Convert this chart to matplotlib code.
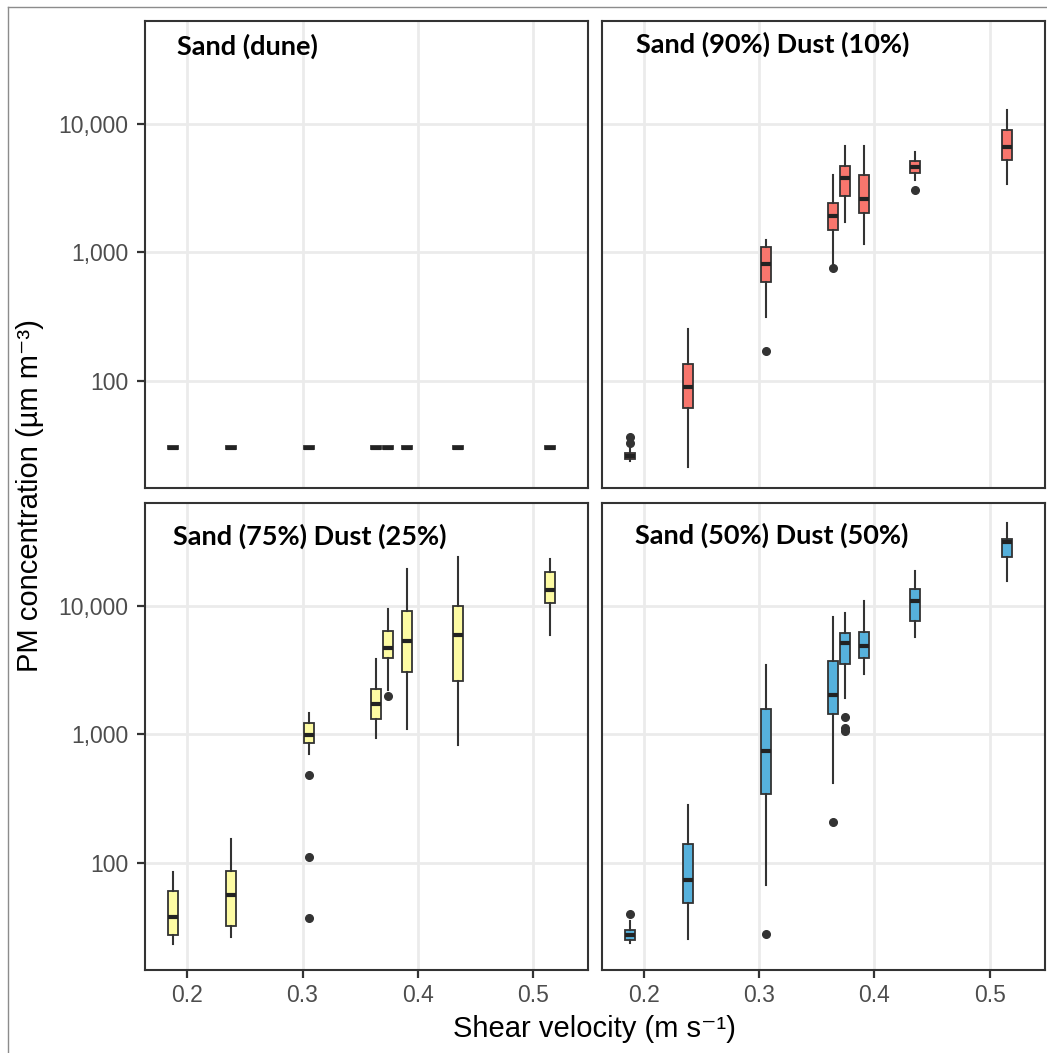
import matplotlib
matplotlib.use("Agg")
import matplotlib.pyplot as plt
from matplotlib.ticker import FixedLocator, FuncFormatter, NullLocator
from matplotlib.lines import Line2D

# Shear velocities (m s-1) of the wind-tunnel runs
shear_velocity = [0.188, 0.238, 0.306, 0.364, 0.374, 0.391, 0.435, 0.515]

# Box statistics per surface: lower whisker, Q1, median, Q3, upper whisker, outliers
dune_lo  = [29.2, 29.2, 29.2, 29.2, 29.2, 29.2, 29.2, 29.2]
dune_q1  = [29.2, 29.2, 29.2, 29.2, 29.2, 29.2, 29.2, 29.2]
dune_med = [30, 30, 30, 30, 30, 30, 30, 30]
dune_q3  = [30.8, 30.8, 30.8, 30.8, 30.8, 30.8, 30.8, 30.8]
dune_hi  = [30.8, 30.8, 30.8, 30.8, 30.8, 30.8, 30.8, 30.8]
dune_out = [[], [], [], [], [], [], [], []]

d10_lo  = [23.8, 21.4, 312, 800, 1733, 1153, 3665, 3404]
d10_q1  = [24.8, 61, 591, 1493, 2717, 2014, 4127, 5178]
d10_med = [26, 90, 811, 1919, 3776, 2589, 4594, 6580]
d10_q3  = [27.5, 135, 1093, 2411, 4652, 4010, 5082, 8872]
d10_hi  = [30.6, 251, 1247, 4010, 6655, 6655, 5986, 12850]
d10_out = [[32.5, 36.6], [], [169], [750], [], [], [3029], []]

d25_lo  = [23.3, 26.6, 697, 929, 2208, 1092, 825, 5910]
d25_q1  = [27.4, 32.4, 849, 1321, 3939, 3063, 2596, 10550]
d25_med = [38, 56, 985, 1706, 4711, 5306, 5910, 13090]
d25_q3  = [60, 86, 1228, 2245, 6310, 9080, 10000, 18280]
d25_hi  = [85, 153, 1468, 3821, 9360, 19170, 24050, 23050]
d25_out = [[], [], [37.3, 111, 481], [], [1983], [], [], []]

d50_lo  = [24, 25.8, 67, 420, 1925, 2937, 5737, 15560]
d50_q1  = [25.3, 49, 342, 1435, 3517, 3939, 7640, 23790]
d50_med = [27.7, 73, 745, 2017, 5093, 4885, 10870, 30930]
d50_q3  = [29.9, 140, 1571, 3707, 6090, 6196, 13550, 33050]
d50_hi  = [35.4, 281, 3452, 8210, 8720, 10870, 18720, 43750]
d50_out = [[40.4], [], [28.2], [208], [1064, 1110, 1368], [], [], []]

panel_titles = ["Sand (dune)", "Sand (90%) Dust (10%)",
                "Sand (75%) Dust (25%)", "Sand (50%) Dust (50%)"]
panel_colors = ["#333333", "#F8766D", "#FDFBA3", "#56B1DC"]
y_ticks = [100, 1000, 10000]
x_ticks = [0.2, 0.3, 0.4, 0.5]

panels = [
    (dune_lo, dune_q1, dune_med, dune_q3, dune_hi, dune_out),
    (d10_lo, d10_q1, d10_med, d10_q3, d10_hi, d10_out),
    (d25_lo, d25_q1, d25_med, d25_q3, d25_hi, d25_out),
    (d50_lo, d50_q1, d50_med, d50_q3, d50_hi, d50_out),
]

W, H = 1047, 1053
fig = plt.figure(figsize=(W / 100, H / 100), dpi=100)

def frac_rect(x0, y0, x1, y1):
    return [x0 / W, 1 - y1 / H, (x1 - x0) / W, (y1 - y0) / H]

rects = [frac_rect(145, 21, 588, 487.7), frac_rect(602, 21, 1044.5, 487.7),
         frac_rect(145, 502.7, 588, 970), frac_rect(602, 502.7, 1044.5, 970)]
title_pos = [(0.073, 0.927), (0.077, 0.931), (0.064, 0.909), (0.0745, 0.913)]

dark = "#333333"
tick_font = ["Liberation Sans", "DejaVu Sans"]

for i, (rect, title, color, data) in enumerate(zip(rects, panel_titles, panel_colors, panels)):
    ax = fig.add_axes(rect)
    lo, q1, med, q3, hi, out = data
    stats = [dict(whislo=a, q1=b, med=c, q3=d, whishi=e, fliers=f)
             for a, b, c, d, e, f in zip(lo, q1, med, q3, hi, out)]
    ax.bxp(stats, positions=shear_velocity, widths=0.0087, patch_artist=True,
           showcaps=False, manage_ticks=False,
           boxprops=dict(facecolor=color, edgecolor=dark, linewidth=1.3),
           whiskerprops=dict(color=dark, linewidth=1.5),
           medianprops=dict(color="#222222", linewidth=3.0, solid_capstyle="butt"),
           flierprops=dict(marker="o", markerfacecolor=dark, markeredgecolor=dark,
                           markersize=5.5))
    ax.set_yscale("log")
    ax.set_ylim(14.7, 63000)
    ax.set_xlim(0.1633, 0.5477)
    ax.yaxis.set_major_locator(FixedLocator(y_ticks))
    ax.yaxis.set_minor_locator(NullLocator())
    ax.xaxis.set_major_locator(FixedLocator(x_ticks))
    ax.xaxis.set_minor_locator(NullLocator())
    ax.yaxis.set_major_formatter(FuncFormatter(lambda v, p: f"{v:,.0f}"))
    ax.xaxis.set_major_formatter(FuncFormatter(lambda v, p: f"{v:.1f}"))
    ax.grid(True, which="major", color="#EBEBEB", linewidth=2.0)
    ax.set_axisbelow(True)
    for sp in ax.spines.values():
        sp.set_color(dark)
        sp.set_linewidth(1.5)
    ax.tick_params(axis="both", length=5.8, width=1.6, color=dark,
                   labelsize=16.5, labelcolor="#4D4D4D")
    ax.tick_params(axis="y", pad=6)
    ax.tick_params(axis="x", pad=4)
    for lab in ax.get_xticklabels() + ax.get_yticklabels():
        lab.set_family(tick_font)
    if i in (0, 1):
        ax.tick_params(axis="x", bottom=False, labelbottom=False)
    if i in (1, 3):
        ax.tick_params(axis="y", left=False, labelleft=False)
    tx, ty = title_pos[i]
    ax.text(tx, ty, title, transform=ax.transAxes, fontsize=19.5,
            fontweight="bold", family=["Lato", "DejaVu Sans"], va="baseline",
            ha="left", color="black")

fig.text(594.5 / W, 1 - 1037 / H, "Shear velocity (m s\u207b\u00b9)",
         ha="center", va="baseline", fontsize=21, family=tick_font, color="black")
fig.text(30 / W, 1 - 496 / H, "PM concentration (\u00b5m m\u207b\u00b3)",
         ha="center", va="center", rotation=90, fontsize=21, family=tick_font,
         color="black")

# thin grey frame along the top and left edges
fig.add_artist(Line2D([8 / W, 8 / W], [0, 1 - 7 / H], transform=fig.transFigure,
                      color="#8C8C8C", linewidth=1.0))
fig.add_artist(Line2D([8 / W, 1], [1 - 7 / H, 1 - 7 / H], transform=fig.transFigure,
                      color="#8C8C8C", linewidth=1.0))

fig.savefig("out.png", dpi=100, facecolor="white")
